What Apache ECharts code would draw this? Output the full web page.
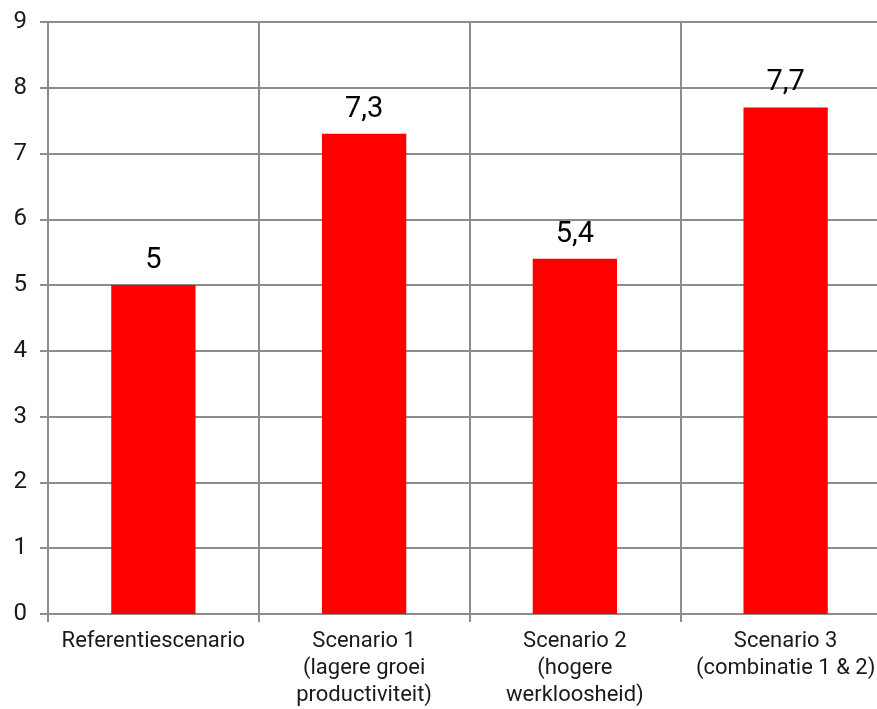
<!DOCTYPE html>
<html><head><meta charset="utf-8">
<script src="https://cdn.jsdelivr.net/npm/echarts@6/dist/echarts.min.js"></script>
<style>html,body{margin:0;padding:0;background:#fff;overflow:hidden}#c{width:892px;height:709px}</style>
</head><body><div id="c"></div>
<script>
const categories = ['Referentiescenario', 'Scenario 1\n(lagere groei\nproductiviteit)', 'Scenario 2\n(hogere\nwerkloosheid)', 'Scenario 3\n(combinatie 1 & 2)'];
const values = [5, 7.3, 5.4, 7.7];
const yTicks = [0, 1, 2, 3, 4, 5, 6, 7, 8, 9];

const lineColor = '#8c8c8c';
const chart = echarts.init(document.getElementById('c'));
chart.setOption({
  animation: false,
  grid: { left: 48, top: 22, right: 1, bottom: 92 },
  xAxis: {
    type: 'category',
    data: categories,
    axisLine: { show: true, lineStyle: { color: lineColor, width: 2 } },
    axisTick: { show: true, length: 8, lineStyle: { color: lineColor, width: 2 } },
    splitLine: { show: true, lineStyle: { color: lineColor, width: 2 } },
    axisLabel: { color: '#1a1a1a', fontFamily: 'Roboto', fontSize: 22, lineHeight: 27, margin: 14, interval: 0 }
  },
  yAxis: {
    type: 'value',
    min: yTicks[0], max: yTicks[yTicks.length - 1], interval: 1,
    axisLine: { show: true, lineStyle: { color: lineColor, width: 2 } },
    axisTick: { show: true, length: 8, lineStyle: { color: lineColor, width: 2 } },
    splitLine: { show: true, lineStyle: { color: lineColor, width: 2 } },
    axisLabel: { color: '#1a1a1a', fontFamily: 'Roboto', fontSize: 24, margin: 21 }
  },
  series: [{
    type: 'bar',
    data: values,
    barWidth: '40%',
    itemStyle: { color: '#ff0000' },
    label: {
      show: true, position: 'top', distance: 10,
      color: '#000', fontFamily: 'Roboto', fontSize: 29,
      formatter: p => String(p.value).replace('.', ',')
    }
  }]
});
</script></body></html>
